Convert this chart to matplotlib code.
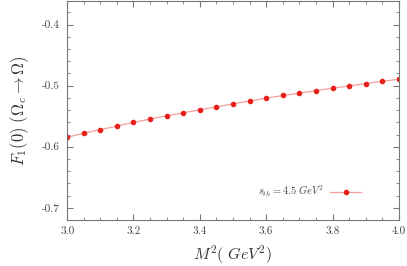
import matplotlib
matplotlib.use("Agg")
import matplotlib.pyplot as plt
from matplotlib.ticker import MultipleLocator

plt.rcParams["font.family"] = "serif"
plt.rcParams["font.serif"] = ["cmr10", "DejaVu Serif"]
plt.rcParams["mathtext.fontset"] = "cm"
plt.rcParams["axes.unicode_minus"] = False

m2 = [3.00, 3.05, 3.10, 3.15, 3.20, 3.25, 3.30, 3.35, 3.40, 3.45, 3.50,
      3.55, 3.60, 3.65, 3.70, 3.75, 3.80, 3.85, 3.90, 3.95, 4.00]
f1 = [-0.5845, -0.5780, -0.5721, -0.5661, -0.5601, -0.5547, -0.5493,
      -0.5445, -0.5396, -0.5347, -0.5298, -0.5252, -0.5205, -0.5161,
      -0.5124, -0.5080, -0.5042, -0.5005, -0.4966, -0.4928, -0.4896]

fig = plt.figure(figsize=(4.07, 2.66), dpi=100)
ax = fig.add_axes([0.165, 0.173, 0.815, 0.824])

ax.plot(m2, f1, color="#f4a09a", lw=0.9, zorder=1)
ax.plot(m2, f1, ls="none", marker="o", ms=3.0, color="#e8201a", zorder=2)
# legend sample: marker with line
h = ax.plot([], [], color="#f4a09a", lw=0.9, marker="o", ms=3.0,
            mfc="#e8201a", mec="#e8201a")[0]
ax.legend([h], [r"$s_{th} = 4.5\ GeV^2$"], loc="center right",
          bbox_to_anchor=(0.915, 0.13), frameon=False, markerfirst=False,
          fontsize=7.5, handlelength=3.0, handletextpad=0.6,
          labelcolor="#444444")

ax.set_xlim(3.0, 4.0)
ax.set_ylim(-0.72, -0.361)
ax.xaxis.set_minor_locator(MultipleLocator(0.05))
ax.yaxis.set_minor_locator(MultipleLocator(0.02))
ax.set_xticks([3.0, 3.2, 3.4, 3.6, 3.8, 4.0])
ax.set_xticklabels(["3.0", "3.2", "3.4", "3.6", "3.8", "4.0"])
ax.set_yticks([-0.7, -0.6, -0.5, -0.4])
ax.set_yticklabels(["-0.7", "-0.6", "-0.5", "-0.4"])

ax.tick_params(which="both", direction="in", top=True, right=True,
               color="#777777", labelcolor="#444444", labelsize=8)
ax.tick_params(which="major", length=4, pad=5)
ax.tick_params(which="minor", length=2)
for s in ax.spines.values():
    s.set_color("#777777")

ax.set_xlabel(r"$M^2(\ GeV^2)$", fontsize=11.5, color="#333333", labelpad=5)
ax.set_ylabel(r"$F_1(0)\ (\Omega_c \to \Omega)$", fontsize=12,
              color="#333333", labelpad=8)

fig.savefig("out.png", dpi=100)
